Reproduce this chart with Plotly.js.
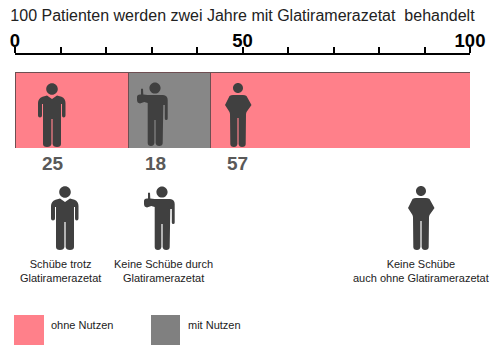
<!DOCTYPE html>
<html>
<head>
<meta charset="utf-8">
<script src="https://cdn.plot.ly/plotly-3.0.1.min.js"></script>
<style>html,body{margin:0;padding:0;background:#fff}#c{width:497px;height:354px}</style>
</head>
<body>
<div id="c"></div>
<script>
const groupNames = ['Schübe trotz Glatiramerazetat', 'Keine Schübe durch Glatiramerazetat', 'Keine Schübe auch ohne Glatiramerazetat'];
const patients = [25, 18, 57];
const groupColors = ['#ff808a', '#878787', '#ff808a'];
const axisTicks = [0, 10, 20, 30, 40, 50, 60, 70, 80, 90, 100];
const axisLabels = ['0', '', '', '', '', '50', '', '', '', '', '100'];
const chartTitle = '100 Patienten werden zwei Jahre mit Glatiramerazetat  behandelt';
const captions = ['Schübe trotz<br>Glatiramerazetat', 'Keine Schübe durch<br>Glatiramerazetat', 'Keine Schübe<br>auch ohne Glatiramerazetat'];
const legendLabels = ['ohne Nutzen', 'mit Nutzen'];

const W = 497, H = 354, L = 15, R = 470;
const px = x => (x - L) / (R - L);
const py = y => 1 - y / H;
const INK = '#404040';

const head = r => `M${-r},0 C${-r},${r*0.55} ${-r*0.55},${r} 0,${r} C${r*0.55},${r} ${r},${r*0.55} ${r},0 C${r},${-r*0.55} ${r*0.55},${-r} 0,${-r} C${-r*0.55},${-r} ${-r},${-r*0.55} ${-r},0 Z`;

const suited = head(5.8) +
  ' M-5,-6.5 L0,-10 L5,-6.5 L9.5,-7.8 Q13.5,-9.5 13.5,-14 L13.5,-26.5 Q13.5,-28.5 11.7,-28.5 Q10,-28.5 10,-26.5 L10,-15 L9,-15 L9,-55 Q9,-58 5,-58 Q1,-58 0.6,-55 L0.6,-30 L-0.6,-30 L-0.6,-55 Q-1,-58 -5,-58 Q-9,-58 -9,-55 L-9,-15 L-10,-15 L-10,-26.5 Q-10,-28.5 -12,-28.5 Q-14,-28.5 -14,-26.5 L-14,-14 Q-14,-9.5 -9.5,-7.8 Z';

const thumbs = head(5.6) +
  ' M-7.3,-7 L8,-7 Q12.7,-7.5 12.7,-12 L12.7,-30.5 Q12.7,-32 11.2,-32 Q9.8,-32 9.8,-30.5 L9.8,-17 L8.3,-17 L7.7,-55 Q7.7,-58 4.2,-58 Q1,-58 0.6,-55 L0.6,-32 L-0.6,-32 L-0.6,-55 Q-1,-58 -4,-58 Q-7.3,-58 -7.3,-55 L-7.3,-15 L-10.7,-14 L-15,-15.5 Q-18,-15 -18,-12 L-18,-9 Q-18,-6.5 -15,-6.5 L-14,-6.5 L-14,-1 Q-13,0 -12,-1 L-11.7,-6.5 Z';

const akimbo = head(5) +
  ' M-5,-7 L5,-7 Q7,-7 8.5,-8 L13.5,-17 L8.5,-24 L8,-26 L7.7,-56 Q7.7,-59 4,-59 Q1,-59 0.6,-56 L0.6,-30 L-0.6,-30 L-0.6,-56 Q-1,-59 -4,-59 Q-7.7,-59 -7.7,-56 L-8,-26 L-8.5,-24 L-13,-17 L-8.5,-8 Q-7,-7 -5,-7 Z';

const figures = [
  [suited, 52, 89], [thumbs, 155, 88], [akimbo, 238, 88],
  [suited, 65, 192], [thumbs, 162, 192], [akimbo, 421, 191]
];

const shapes = figures.map(([path, x, y]) => ({
  type: 'path', path, xsizemode: 'pixel', ysizemode: 'pixel', xref: 'paper', yref: 'paper',
  xanchor: px(x), yanchor: py(y), fillcolor: INK, line: {width: 0}, layer: 'above'
}));
shapes.push(
  {type: 'rect', xref: 'paper', yref: 'paper', x0: px(14), x1: px(44), y0: py(315), y1: py(345), fillcolor: '#ff808a', line: {width: 0}},
  {type: 'rect', xref: 'paper', yref: 'paper', x0: px(151), x1: px(180), y0: py(315), y1: py(345), fillcolor: '#808080', line: {width: 0}}
);

const note = (text, x, y, size, color, bold, anchor) => ({
  text: bold ? `<b>${text}</b>` : text, x: px(x), y: py(y), xref: 'paper', yref: 'paper', showarrow: false,
  xanchor: anchor || 'center', yanchor: 'middle', align: 'center',
  font: {family: 'Liberation Sans, Arial, sans-serif', size, color}
});

const annotations = [
  note(patients[0], 52.7, 164, 19, '#595959', true),
  note(patients[1], 155, 163.5, 19, '#595959', true),
  note(patients[2], 237, 164, 19, '#595959', true),
  note(captions[0], 60, 271, 11, '#222222'),
  note(captions[1], 163, 271, 11, '#222222'),
  note(captions[2], 421, 271, 11, '#222222'),
  note(legendLabels[0], 48.5, 325, 11, '#222222', false, 'left'),
  note(legendLabels[1], 185.5, 325, 11, '#222222', false, 'left')
];

const traces = patients.map((v, i) => ({
  type: 'bar', orientation: 'h', x: [v], y: [0], width: 1, name: groupNames[i], hoverinfo: 'name+x',
  marker: {color: groupColors[i], line: {color: '#6e4f52', width: 1}}
}));

const axisBase = {
  range: [0, 100], tickmode: 'array', tickvals: axisTicks, ticks: 'outside', ticklen: 6, tickwidth: 2,
  tickcolor: '#000', showline: true, linecolor: '#000', linewidth: 2, showgrid: false, zeroline: false,
  anchor: 'free', position: 1 - 54 / H, automargin: false
};

const layout = {
  width: W, height: H, paper_bgcolor: '#fff', plot_bgcolor: 'rgba(0,0,0,0)', showlegend: false,
  margin: {l: L, r: W - R, t: 0, b: 0, pad: 0}, barmode: 'stack', bargap: 0,
  title: {text: chartTitle, x: 242.5 / W, xanchor: 'center', xref: 'container', y: 1 - 15 / H, yanchor: 'middle', yref: 'container',
    font: {family: 'Liberation Sans, Arial, sans-serif', size: 16, color: '#222222'}},
  xaxis: Object.assign({}, axisBase, {side: 'top', ticktext: axisLabels, ticklabelstandoff: -7,
    tickfont: {family: 'Liberation Sans, Arial, sans-serif', size: 18.5, color: '#000', weight: 'bold'}}),
  xaxis2: Object.assign({}, axisBase, {side: 'bottom', overlaying: 'x', showticklabels: false}),
  yaxis: {domain: [206 / H, 282 / H], range: [-0.5, 0.5], visible: false, fixedrange: true},
  shapes, annotations
};

Plotly.newPlot('c', traces, layout, {displayModeBar: false, staticPlot: true});
</script>
</body>
</html>
